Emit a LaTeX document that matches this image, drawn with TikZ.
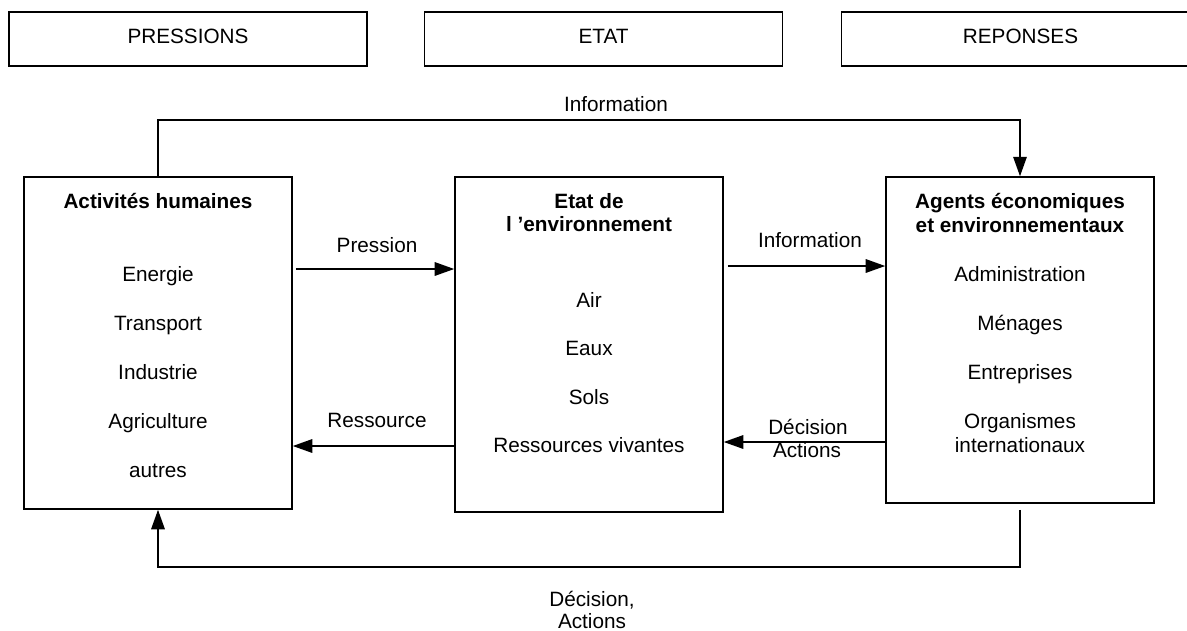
\documentclass[tikz,border=0pt]{standalone}
\usepackage{fontspec}
\setmainfont{Liberation Sans}
\usetikzlibrary{arrows.meta}

\begin{document}
\begin{tikzpicture}[x=0.02cm,y=-0.02cm,>={Triangle[length=0.39cm,width=0.27cm]},
		txt/.style={font=\fontsize{11.8}{13.7}\selectfont,anchor=base,inner sep=0pt},
		gras/.style={txt,font=\fontsize{11.8}{13.7}\selectfont\bfseries},
		titre/.style={draw,line width=0.8pt,minimum width=7.16cm,minimum height=1.08cm,inner sep=0pt},
		bloc/.style={draw,line width=0.9pt,minimum width=5.36cm,inner sep=0pt},
		fleche/.style={->,line width=0.9pt}]
	\useasboundingbox (0,0) rectangle (1187,630);

	\node[titre] (pressions) at (188,39) {};
	\node[titre] (etat) at (603.5,39) {};
	\node[titre] (reponses) at (1020.5,39) {};
	\node[txt] (tpressions) at (188,43) {PRESSIONS};
	\node[txt] (tetat) at (603.5,43) {ETAT};
	\node[txt] (treponses) at (1020.5,43) {REPONSES};

	\node[bloc,minimum height=6.64cm] (act) at (158,343) {};
	\node[bloc,minimum height=6.70cm] (env) at (589,344.5) {};
	\node[bloc,minimum height=6.52cm] (agents) at (1020,340) {};

	\node[gras] (acttitre) at (158,208) {Activités humaines};
	\foreach \t [count=\i] in {Energie,Transport,Industrie,Agriculture,autres}
		\node[txt] (act\i) at (158,{281.5+49*(\i-1)}) {\t};

	\node[gras] (envtitrea) at (589,208) {Etat de};
	\node[gras] (envtitreb) at (589,231.5) {l ’environnement};
	\foreach \t [count=\i] in {Air,Eaux,Sols,Ressources vivantes}
		\node[txt] (env\i) at (589,{307+48.5*(\i-1)}) {\t};

	\node[gras] (agtitrea) at (1020,208) {Agents économiques};
	\node[gras] (agtitreb) at (1020,232) {et environnementaux};
	\foreach \t [count=\i] in {Administration,Ménages,Entreprises,Organismes}
		\node[txt] (ag\i) at (1020,{281+49*(\i-1)}) {\t};
	\node[txt] (ag5) at (1020,452.5) {internationaux};

	\coordinate (ypres) at (0,269);
	\coordinate (yinfo) at (0,266);
	\coordinate (yres) at (0,446);
	\coordinate (ydec) at (0,442);
	\coordinate (yhaut) at (0,120);
	\coordinate (ybas) at (0,567);

	\draw[fleche,shorten <=0.06cm] (act.east |- ypres) -- (env.west |- ypres);
	\draw[fleche,shorten <=0.08cm] (env.east |- yinfo) -- (agents.west |- yinfo);
	\draw[fleche] (env.west |- yres) -- (act.east |- yres);
	\draw[fleche] (agents.west |- ydec) -- (env.east |- ydec);
	\draw[fleche] (act.north) -- (act.north |- yhaut) -- (agents.north |- yhaut) -- (agents.north);
	\draw[fleche,shorten <=0.12cm] (agents.south) -- (agents.south |- ybas) -- (act.south |- ybas) -- (act.south);

	\node[txt] (lpression) at (377,252) {Pression};
	\node[txt] (linfo) at (810,247) {Information};
	\node[txt] (lres) at (377,427) {Ressource};
	\node[txt] (ldeca) at (808,434) {Décision};
	\node[txt] (ldecb) at (807,457) {Actions};
	\node[txt] (linfohaut) at (616,111) {Information};
	\node[txt] (lbasa) at (592,606) {Décision,};
	\node[txt] (lbasb) at (592,628) {Actions};
\end{tikzpicture}
\end{document}
